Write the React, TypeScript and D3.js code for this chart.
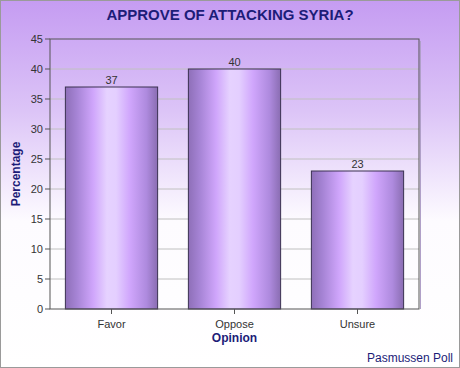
import React from "react";
import * as d3 from "d3";

const categories = ["Favor", "Oppose", "Unsure"];
const values = [37, 40, 23];
const yTicks = [0, 5, 10, 15, 20, 25, 30, 35, 40, 45];
const title = "APPROVE OF ATTACKING SYRIA?";
const xTitle = "Opinion";
const yTitle = "Percentage";
const source = "Pasmussen Poll";

export default function App() {
  const W = 460, H = 368;
  const m = { l: 50, r: 41, t: 39, b: 59 };
  const x = d3.scaleBand().domain(categories).range([m.l, W - m.r]).paddingInner(0.25).paddingOuter(0.125);
  const y = d3.scaleLinear().domain([0, 45]).range([H - m.b, m.t]);
  const navy = "#1c1c78";
  const font = "Liberation Sans, Arial, sans-serif";
  return (
    <svg width={W} height={H} style={{ position: "absolute", left: 0, top: 0 }} fontFamily={font}>
      <defs>
        <linearGradient id="bg" x1="0" y1="0" x2="0" y2="1">
          <stop offset="0" stopColor="#c59cf2" />
          <stop offset="0.3" stopColor="#dcc4f7" />
          <stop offset="0.6" stopColor="#fdfbff" />
          <stop offset="1" stopColor="#ffffff" />
        </linearGradient>
        <linearGradient id="bar" x1="0" y1="0" x2="1" y2="0">
          <stop offset="0" stopColor="#8e6fb8" />
          <stop offset="0.12" stopColor="#a583d4" />
          <stop offset="0.3" stopColor="#cfa5fb" />
          <stop offset="0.45" stopColor="#e6d2ff" />
          <stop offset="0.55" stopColor="#e4cfff" />
          <stop offset="0.7" stopColor="#d0a6fc" />
          <stop offset="0.88" stopColor="#ae8ade" />
          <stop offset="1" stopColor="#8a6db2" />
        </linearGradient>
      </defs>
      <rect x={0.5} y={0.5} width={W - 1} height={H - 1} fill="url(#bg)" stroke="#9a9a9a" />
      <text x={W / 2} y={20} textAnchor="middle" fontSize={15} fontWeight="bold" fill={navy}>{title}</text>
      {yTicks.map((t) => (
        <g key={t}>
          {t > 0 && t < 45 && (
            <line x1={m.l} x2={W - m.r} y1={y(t)} y2={y(t)} stroke="#c0c0c0" strokeWidth={1} />
          )}
          <line x1={m.l - 5} x2={m.l} y1={y(t)} y2={y(t)} stroke="#555" />
          <text x={m.l - 7} y={y(t) + 4} textAnchor="end" fontSize={11} fill="#333">{t}</text>
        </g>
      ))}
      {categories.map((c, i) => (
        <g key={c}>
          <rect
            x={x(c)!}
            y={y(values[i])}
            width={x.bandwidth()}
            height={y(0) - y(values[i])}
            fill="url(#bar)"
            stroke="#3a3050"
            strokeWidth={1}
          />
          <text x={x(c)! + x.bandwidth() / 2} y={y(values[i]) - 3} textAnchor="middle" fontSize={11} fill="#333">{values[i]}</text>
          <line x1={x(c)! + x.bandwidth() / 2} x2={x(c)! + x.bandwidth() / 2} y1={y(0)} y2={y(0) + 5} stroke="#555" />
          <text x={x(c)! + x.bandwidth() / 2} y={y(0) + 19} textAnchor="middle" fontSize={11} fill="#333">{c}</text>
        </g>
      ))}
      <rect x={m.l} y={m.t} width={W - m.r - m.l} height={y(0) - m.t} fill="none" stroke="#555" strokeWidth={1} />
      <line x1={W - m.r + 1.5} x2={W - m.r + 1.5} y1={m.t + 2} y2={y(0)} stroke="#b0a0c8" strokeWidth={1} />
      <text x={(m.l + W - m.r) / 2} y={y(0) + 33} textAnchor="middle" fontSize={12} fontWeight="bold" fill={navy}>{xTitle}</text>
      <text transform={`translate(20,${(m.t + y(0)) / 2}) rotate(-90)`} textAnchor="middle" fontSize={12} fontWeight="bold" fill={navy}>{yTitle}</text>
      <text x={W - 7} y={H - 6} textAnchor="end" fontSize={12} fill={navy}>{source}</text>
    </svg>
  );
}
